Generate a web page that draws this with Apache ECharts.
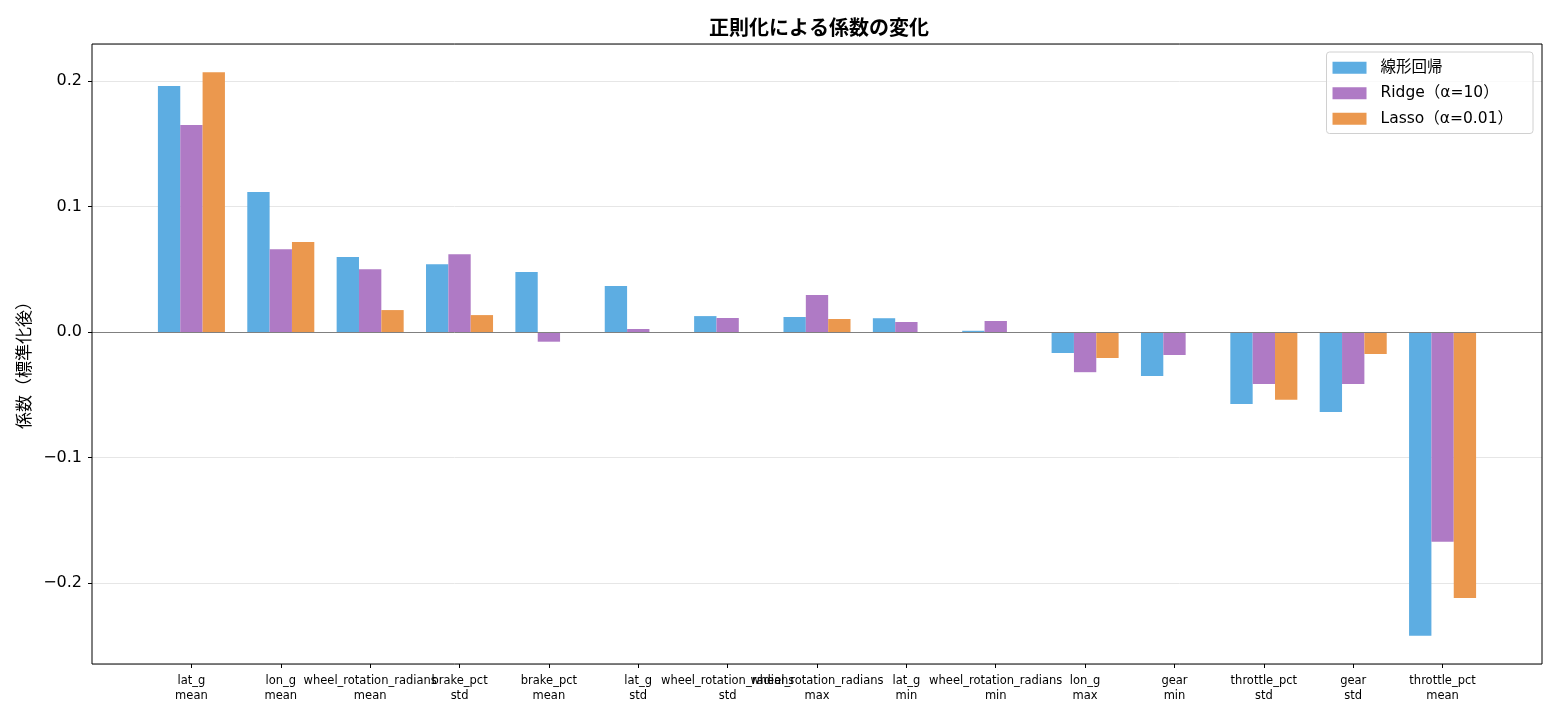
<!DOCTYPE html>
<html>
<head>
<meta charset="utf-8">
<script src="https://cdn.jsdelivr.net/npm/echarts@6/dist/echarts.min.js"></script>
<style>
  html, body { margin: 0; padding: 0; background: #fff; }
  #chart { width: 1560px; height: 720px; }
</style>
</head>
<body>
<div id="chart"></div>
<script>
const features = ['lat_g\nmean', 'lon_g\nmean', 'wheel_rotation_radians\nmean', 'brake_pct\nstd', 'brake_pct\nmean',
  'lat_g\nstd', 'wheel_rotation_radians\nstd', 'wheel_rotation_radians\nmax', 'lat_g\nmin', 'wheel_rotation_radians\nmin',
  'lon_g\nmax', 'gear\nmin', 'throttle_pct\nstd', 'gear\nstd', 'throttle_pct\nmean']
const linear = [0.196, 0.1116, 0.0598, 0.054, 0.0478, 0.0367, 0.0127, 0.012, 0.011, 0.001, -0.0167, -0.035, -0.0574, -0.0637, -0.242]
const ridge = [0.165, 0.066, 0.050, 0.062, -0.0077, 0.0024, 0.0112, 0.0295, 0.008, 0.0088, -0.032, -0.0183, -0.0414, -0.0414, -0.167]
const lasso = [0.207, 0.0717, 0.0175, 0.0135, 0, 0, 0, 0.0104, 0, 0, -0.0207, 0, -0.054, -0.0175, -0.212]
const seriesNames = ['線形回帰', 'Ridge（α=10）', 'Lasso（α=0.01）']
const colors = ['#5DADE2', '#AF7AC5', '#EB984E']

const yMin = -0.2645
const yMax = 0.2295
const font = '"Noto Sans CJK JP", "Noto Sans", sans-serif'
const latinFont = '"DejaVu Sans", "Noto Sans CJK JP", sans-serif'

// frame spans -1.1125..15.1125 in category units, bars in -0.5..14.5
const frame = { left: 92, right: 18, top: 44, bottom: 56 }
const unit = (1560 - frame.left - frame.right) / 16.225
const inset = 0.6125 * unit

const chart = echarts.init(document.getElementById('chart'))
chart.setOption({
  animation: false,
  textStyle: { fontFamily: font },
  title: {
    text: '正則化による係数の変化',
    left: 814, top: 12, textAlign: 'center',
    textStyle: { fontSize: 20, fontWeight: 'bold', color: '#000', fontFamily: font }
  },
  legend: {
    orient: 'vertical',
    right: 27, top: 52,
    padding: [8, 20, 7, 6],
    borderColor: '#d0d0d0', borderWidth: 1, borderRadius: 3,
    backgroundColor: 'rgba(255,255,255,0.8)',
    itemWidth: 34, itemHeight: 12, itemGap: 10,
    icon: 'rect',
    textStyle: { fontSize: 15.5, color: '#000', fontFamily: latinFont, padding: [0, 0, 0, 9] },
    data: seriesNames
  },
  grid: [
    { left: frame.left + inset, right: frame.right + inset, top: frame.top, bottom: frame.bottom },
    { left: frame.left, right: frame.right, top: frame.top, bottom: frame.bottom,
      show: true, borderColor: '#000', borderWidth: 1, backgroundColor: 'transparent', z: 10 }
  ],
  xAxis: [
    { type: 'category', gridIndex: 0, data: features, position: 'bottom',
      axisLine: { show: false, onZero: false },
      axisTick: { show: true, alignWithLabel: true, length: 4, lineStyle: { color: '#000' } },
      axisLabel: { fontSize: 11.5, color: '#000', margin: 10, lineHeight: 15, interval: 0, fontFamily: latinFont }
    },
    { type: 'value', gridIndex: 1, min: 0, max: 1, show: false }
  ],
  yAxis: [
    { type: 'value', gridIndex: 0, min: yMin, max: yMax, show: false, splitLine: { show: false } },
    { type: 'value', gridIndex: 1, min: yMin, max: yMax,
      name: '係数（標準化後）', nameLocation: 'middle', nameGap: 58,
      nameTextStyle: { fontSize: 17, color: '#000', fontFamily: font, padding: [0, 14, 0, 0] },
      axisLine: { show: false },
      axisTick: { show: true, length: 4, lineStyle: { color: '#000' } },
      axisLabel: { fontSize: 16, color: '#000', margin: 10, showMinLabel: false, showMaxLabel: false,
        formatter: v => v.toFixed(1).replace('-', '\u2212'), fontFamily: latinFont },
      splitLine: { show: true, lineStyle: { color: '#e6e6e6', width: 1 } }
    }
  ],
  series: [
    ...[linear, ridge, lasso].map((vals, i) => ({
      name: seriesNames[i], type: 'bar',
      xAxisIndex: 0, yAxisIndex: 0,
      data: vals,
      barGap: '0%', barCategoryGap: '25%',
      itemStyle: { color: colors[i] }
    })),
    { type: 'line', xAxisIndex: 1, yAxisIndex: 1, data: [], silent: true,
      markLine: { symbol: 'none', silent: true, label: { show: false },
        lineStyle: { color: '#808080', width: 1, type: 'solid' },
        data: [{ yAxis: 0 }] } }
  ]
})
</script>
</body>
</html>
